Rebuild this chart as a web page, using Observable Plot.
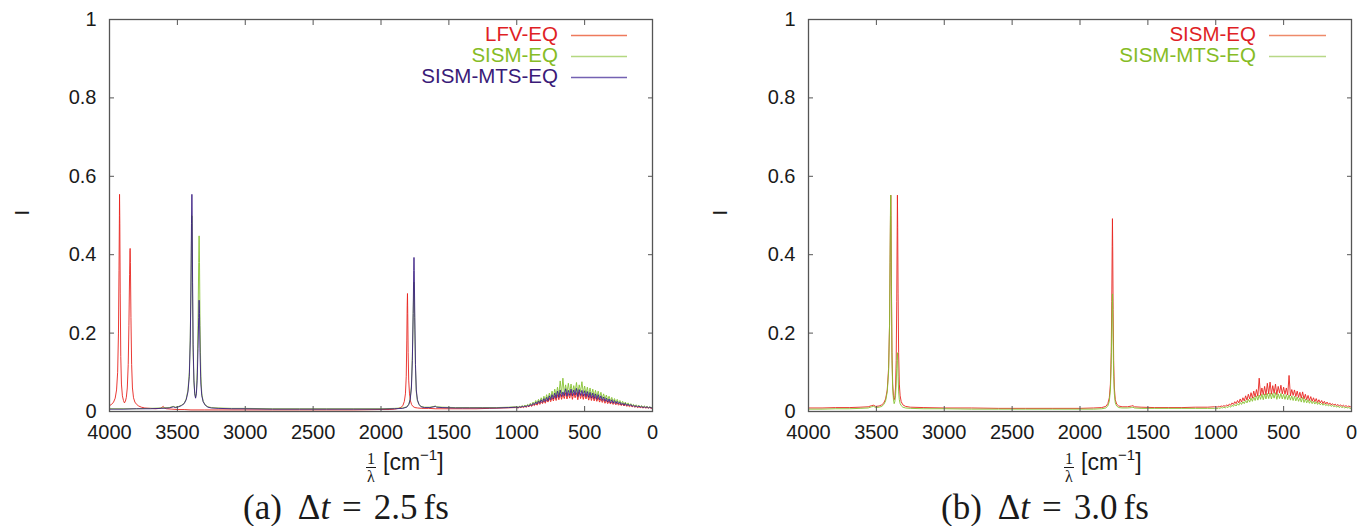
<!DOCTYPE html>
<html>
<head>
<meta charset="utf-8">
<script src="https://cdn.jsdelivr.net/npm/d3@7"></script>
<script src="https://cdn.jsdelivr.net/npm/@observablehq/plot@0.6"></script>
<style>
  html, body { margin: 0; padding: 0; background: #fff; }
  #root { position: relative; width: 1361px; height: 526px; overflow: hidden; font-family: "Liberation Sans", Arial, sans-serif; color: #1a1a1a; }
  .panel { position: absolute; top: 0; }
  .leg { position: absolute; font-size: 20.5px; line-height: 20px; text-align: right; white-space: nowrap; }
  .legsvg { position: absolute; overflow: visible; }
  .xlab { position: absolute; font-size: 23px; white-space: nowrap; line-height: 1; }
  .frac { display: inline-block; vertical-align: -12px; text-align: center; font-family: "Liberation Serif", serif; font-size: 16px; line-height: 15px; margin-right: 7px; }
  .frac .num { display: block; border-bottom: 1px solid #1a1a1a; padding: 0 1px 1px 1px; }
  .frac .den { display: block; padding-top: 1px; }
  .xlab sup { font-size: 15px; vertical-align: 10px; line-height: 0; }
  .cap { position: absolute; font-family: "Liberation Serif", serif; font-size: 35px; line-height: 35px; white-space: nowrap; }
  .cap span { display: inline-block; }
</style>
</head>
<body>
<div id="root"></div>
<script>
// ---------- axis ticks ----------
const xTicks = [0, 500, 1000, 1500, 2000, 2500, 3000, 3500, 4000];
const yTicks = [0, 0.2, 0.4, 0.6, 0.8, 1];

// ---------- shared x grid for the broad low-frequency band (cm^-1) ----------
const humpX = [
  1000, 990, 980, 970, 960, 950, 940, 930, 920, 910,
  900, 890, 880, 870, 860, 850, 840, 830, 820, 810,
  800, 790, 780, 770, 760, 750, 740, 730, 720, 710,
  700, 690, 680, 670, 660, 650, 640, 630, 620, 610,
  600, 590, 580, 570, 560, 550, 540, 530, 520, 510,
  500, 490, 480, 470, 460, 450, 440, 430, 420, 410,
  400, 390, 380, 370, 360, 350, 340, 330, 320, 310,
  300, 290, 280, 270, 260, 250, 240, 230, 220, 210,
  200, 190, 180, 170, 160, 150, 140, 130, 120, 110,
  100, 90, 80, 70, 60, 50, 40, 30, 20, 10,
  0
];

// ================= panel (a): dt = 2.5 fs =================
const labelsA = ["LFV-EQ", "SISM-EQ", "SISM-MTS-EQ"];
const colorsA = ["#e8251f", "#86c232", "#3b1f84"];
const textColorsA = ["#df1f26", "#86bc25", "#3a1a78"];
const legendLineA = ["#ee7a5c", "#b4d880", "#7462b2"];

const lfvA_main = [
  [4000,0.015],[3985,0.018],[3970,0.024],[3958,0.034],[3948,0.055],[3940,0.10],[3934,0.20],[3930,0.36],[3927,0.50],[3926,0.554],
  [3924,0.48],[3921,0.30],[3917,0.14],[3912,0.07],[3905,0.04],[3897,0.028],[3890,0.022],[3883,0.026],[3876,0.036],[3869,0.06],
  [3862,0.12],[3857,0.22],[3852,0.35],[3849,0.41],[3848,0.416],[3846,0.38],[3842,0.24],[3837,0.12],[3831,0.06],[3823,0.035],
  [3813,0.024],[3800,0.018],[3785,0.014],[3765,0.011],[3740,0.009],[3700,0.008],[3660,0.007],[3625,0.008],[3612,0.011],[3604,0.013],
  [3596,0.009],[3580,0.007],[3540,0.006],[3500,0.005],[3450,0.005],[3400,0.004],[3300,0.004],[3200,0.004],[3000,0.004],[2800,0.004],
  [2600,0.004],[2400,0.004],[2200,0.004],[2000,0.005],[1940,0.005],[1900,0.006],[1870,0.008],[1850,0.011],[1838,0.016],[1828,0.026],
  [1820,0.045],[1814,0.09],[1810,0.18],[1807,0.27],[1805,0.301],[1803,0.25],[1800,0.15],[1796,0.08],[1790,0.045],[1783,0.027],
  [1775,0.018],[1765,0.013],[1750,0.010],[1730,0.009],[1700,0.008],[1650,0.008],[1600,0.007],[1500,0.007],[1400,0.007],[1300,0.007],
  [1200,0.008],[1100,0.009],[1010,0.010]
];
const lfvA_band = [
  0.010,0.009,0.011,0.010,0.012,0.010,0.013,0.011,0.014,0.012,
  0.016,0.013,0.018,0.015,0.020,0.016,0.023,0.018,0.025,0.020,
  0.028,0.021,0.030,0.024,0.034,0.025,0.036,0.027,0.040,0.028,
  0.043,0.030,0.045,0.031,0.044,0.033,0.048,0.032,0.046,0.034,
  0.049,0.031,0.047,0.035,0.048,0.030,0.050,0.033,0.046,0.031,
  0.045,0.032,0.044,0.029,0.042,0.028,0.040,0.027,0.038,0.026,
  0.036,0.024,0.033,0.023,0.031,0.021,0.029,0.020,0.027,0.019,
  0.025,0.018,0.023,0.017,0.022,0.016,0.020,0.015,0.019,0.014,
  0.018,0.013,0.016,0.012,0.015,0.012,0.014,0.011,0.013,0.010,
  0.012,0.010,0.011,0.009,0.011,0.009,0.010,0.009,0.010,0.008,
  0.009
];

const sismA_main = [
  [4000,0.007],[3900,0.007],[3800,0.007],[3700,0.008],[3620,0.009],[3560,0.010],[3530,0.013],[3515,0.011],[3490,0.013],[3470,0.016],
  [3450,0.021],[3435,0.032],[3422,0.055],[3412,0.10],[3405,0.19],[3400,0.31],[3396,0.44],[3393,0.50],[3391,0.46],[3388,0.30],
  [3384,0.15],[3378,0.075],[3372,0.045],[3366,0.036],[3360,0.05],[3354,0.10],[3348,0.22],[3343,0.38],[3340,0.448],[3337,0.38],
  [3333,0.22],[3327,0.09],[3320,0.045],[3310,0.026],[3295,0.017],[3275,0.012],[3250,0.010],[3200,0.009],[3100,0.008],[3000,0.008],
  [2800,0.007],[2600,0.007],[2400,0.007],[2200,0.007],[2000,0.007],[1900,0.008],[1840,0.009],[1810,0.012],[1795,0.019],[1785,0.032],
  [1776,0.065],[1769,0.14],[1763,0.25],[1759,0.31],[1757,0.33],[1755,0.30],[1751,0.21],[1746,0.11],[1740,0.05],[1732,0.028],
  [1720,0.018],[1705,0.013],[1680,0.011],[1640,0.011],[1610,0.013],[1600,0.014],[1590,0.012],[1550,0.011],[1450,0.010],[1350,0.010],
  [1250,0.010],[1150,0.010],[1060,0.011],[1010,0.012]
];
const sismA_band = [
  0.012,0.011,0.013,0.012,0.015,0.013,0.016,0.014,0.018,0.015,
  0.021,0.017,0.024,0.019,0.028,0.021,0.031,0.024,0.035,0.026,
  0.039,0.029,0.043,0.031,0.047,0.034,0.052,0.037,0.057,0.040,
  0.062,0.042,0.078,0.045,0.085,0.046,0.068,0.047,0.072,0.048,
  0.070,0.047,0.066,0.049,0.074,0.046,0.068,0.050,0.076,0.047,
  0.065,0.045,0.062,0.043,0.060,0.041,0.057,0.039,0.054,0.037,
  0.052,0.035,0.049,0.033,0.045,0.031,0.042,0.029,0.039,0.027,
  0.036,0.025,0.033,0.023,0.031,0.022,0.028,0.020,0.026,0.018,
  0.024,0.017,0.022,0.016,0.020,0.015,0.018,0.014,0.017,0.013,
  0.016,0.012,0.015,0.011,0.014,0.011,0.013,0.010,0.012,0.010,
  0.011
];

const mtsA_main = [
  [4000,0.006],[3900,0.006],[3800,0.007],[3700,0.007],[3620,0.008],[3560,0.009],[3530,0.012],[3515,0.010],[3490,0.012],[3470,0.015],
  [3450,0.02],[3435,0.03],[3422,0.05],[3412,0.09],[3405,0.18],[3400,0.32],[3396,0.48],[3393,0.554],[3391,0.50],[3388,0.33],
  [3384,0.17],[3378,0.08],[3372,0.045],[3366,0.034],[3360,0.045],[3354,0.08],[3348,0.16],[3343,0.24],[3340,0.284],[3337,0.25],
  [3333,0.15],[3327,0.07],[3320,0.04],[3310,0.025],[3295,0.016],[3275,0.011],[3250,0.009],[3200,0.008],[3100,0.007],[3000,0.007],
  [2800,0.006],[2600,0.006],[2400,0.006],[2200,0.006],[2000,0.006],[1900,0.007],[1840,0.008],[1810,0.011],[1795,0.018],[1785,0.03],
  [1776,0.06],[1769,0.13],[1763,0.25],[1759,0.36],[1757,0.393],[1755,0.36],[1751,0.24],[1746,0.12],[1740,0.055],[1732,0.03],
  [1720,0.018],[1705,0.012],[1680,0.010],[1640,0.010],[1610,0.012],[1600,0.013],[1590,0.011],[1550,0.010],[1450,0.009],[1350,0.009],
  [1250,0.009],[1150,0.009],[1060,0.010],[1010,0.011]
];
const mtsA_band = [
  0.011,0.010,0.012,0.011,0.013,0.012,0.014,0.012,0.016,0.013,
  0.018,0.015,0.021,0.017,0.024,0.019,0.027,0.021,0.030,0.023,
  0.033,0.025,0.036,0.027,0.040,0.030,0.043,0.032,0.047,0.034,
  0.052,0.036,0.055,0.038,0.050,0.040,0.058,0.039,0.054,0.041,
  0.057,0.040,0.055,0.042,0.059,0.038,0.056,0.041,0.054,0.039,
  0.053,0.038,0.051,0.036,0.049,0.034,0.047,0.033,0.045,0.031,
  0.043,0.030,0.040,0.028,0.037,0.026,0.034,0.024,0.032,0.022,
  0.030,0.021,0.028,0.020,0.026,0.019,0.024,0.017,0.022,0.016,
  0.021,0.015,0.019,0.014,0.018,0.013,0.016,0.012,0.015,0.011,
  0.014,0.011,0.013,0.010,0.012,0.010,0.012,0.009,0.011,0.009,
  0.010
];

// ================= panel (b): dt = 3.0 fs =================
const labelsB = ["SISM-EQ", "SISM-MTS-EQ"];
const colorsB = ["#e8251f", "#86c232"];
const textColorsB = ["#df1f26", "#86bc25"];
const legendLineB = ["#ee8a6a", "#b8d886"];

const sismB_main = [
  [4000,0.009],[3900,0.009],[3800,0.010],[3700,0.010],[3620,0.011],[3560,0.012],[3535,0.015],[3520,0.016],[3505,0.013],[3480,0.014],
  [3460,0.017],[3445,0.022],[3432,0.032],[3420,0.055],[3410,0.11],[3403,0.22],[3399,0.38],[3396,0.50],[3394,0.552],[3392,0.50],
  [3389,0.32],[3385,0.15],[3380,0.07],[3374,0.04],[3369,0.03],[3364,0.035],[3359,0.06],[3354,0.13],[3350,0.28],[3347,0.45],
  [3345,0.552],[3343,0.47],[3340,0.30],[3336,0.15],[3331,0.07],[3325,0.04],[3317,0.025],[3305,0.017],[3285,0.013],[3250,0.011],
  [3150,0.010],[3000,0.009],[2800,0.009],[2600,0.008],[2400,0.008],[2200,0.008],[2000,0.008],[1900,0.009],[1840,0.010],[1810,0.013],
  [1795,0.02],[1784,0.035],[1776,0.07],[1770,0.15],[1766,0.28],[1763,0.42],[1761,0.492],[1759,0.42],[1756,0.26],[1752,0.13],
  [1747,0.06],[1740,0.03],[1730,0.019],[1715,0.014],[1690,0.012],[1650,0.012],[1620,0.014],[1610,0.015],[1600,0.012],[1550,0.011],
  [1450,0.010],[1350,0.010],[1250,0.010],[1150,0.011],[1060,0.011],[1010,0.012]
];
const sismB_band = [
  0.012,0.011,0.013,0.012,0.014,0.013,0.015,0.013,0.017,0.014,
  0.019,0.016,0.022,0.018,0.025,0.020,0.028,0.022,0.032,0.024,
  0.035,0.027,0.040,0.029,0.044,0.032,0.048,0.034,0.052,0.037,
  0.056,0.039,0.085,0.041,0.060,0.043,0.064,0.042,0.072,0.045,
  0.075,0.044,0.066,0.046,0.070,0.043,0.064,0.047,0.067,0.045,
  0.062,0.044,0.060,0.042,0.092,0.040,0.056,0.041,0.055,0.038,
  0.052,0.036,0.049,0.034,0.050,0.032,0.044,0.030,0.041,0.028,
  0.038,0.026,0.035,0.025,0.033,0.023,0.030,0.022,0.028,0.020,
  0.026,0.019,0.024,0.018,0.022,0.017,0.020,0.016,0.019,0.015,
  0.018,0.014,0.017,0.013,0.016,0.013,0.015,0.012,0.014,0.012,
  0.012
];

const mtsB_main = [
  [4000,0.006],[3900,0.006],[3800,0.007],[3700,0.007],[3620,0.008],[3560,0.009],[3535,0.012],[3520,0.013],[3505,0.010],[3480,0.011],
  [3460,0.013],[3445,0.018],[3432,0.027],[3420,0.05],[3410,0.10],[3403,0.22],[3399,0.40],[3396,0.52],[3394,0.552],[3392,0.48],
  [3389,0.30],[3385,0.13],[3380,0.06],[3374,0.03],[3369,0.02],[3364,0.025],[3359,0.04],[3354,0.07],[3350,0.11],[3347,0.14],
  [3345,0.15],[3343,0.13],[3340,0.09],[3336,0.05],[3331,0.03],[3325,0.02],[3317,0.015],[3305,0.011],[3285,0.009],[3250,0.008],
  [3150,0.007],[3000,0.007],[2800,0.006],[2600,0.006],[2400,0.006],[2200,0.006],[2000,0.006],[1900,0.006],[1840,0.007],[1810,0.009],
  [1795,0.014],[1784,0.026],[1776,0.055],[1770,0.12],[1766,0.21],[1763,0.28],[1761,0.30],[1759,0.27],[1756,0.18],[1752,0.09],
  [1747,0.045],[1740,0.022],[1730,0.014],[1715,0.010],[1690,0.009],[1650,0.009],[1620,0.010],[1610,0.011],[1600,0.009],[1550,0.008],
  [1450,0.008],[1350,0.008],[1250,0.008],[1150,0.008],[1060,0.008],[1010,0.008]
];
const mtsB_band = [
  0.008,0.007,0.009,0.008,0.010,0.009,0.011,0.009,0.012,0.010,
  0.014,0.011,0.016,0.013,0.018,0.014,0.020,0.016,0.023,0.018,
  0.025,0.020,0.028,0.022,0.031,0.024,0.034,0.026,0.037,0.028,
  0.040,0.029,0.042,0.031,0.044,0.030,0.045,0.032,0.046,0.033,
  0.047,0.032,0.046,0.034,0.048,0.031,0.045,0.033,0.046,0.032,
  0.044,0.031,0.043,0.030,0.042,0.029,0.040,0.028,0.039,0.027,
  0.037,0.026,0.035,0.024,0.036,0.023,0.032,0.022,0.030,0.021,
  0.028,0.020,0.026,0.019,0.025,0.018,0.023,0.017,0.021,0.016,
  0.020,0.015,0.018,0.014,0.017,0.013,0.016,0.012,0.015,0.011,
  0.014,0.010,0.013,0.010,0.012,0.009,0.011,0.009,0.010,0.008,
  0.008
];

// ---------- build tables ----------
function series(main, band) {
  return main.map(([x, y]) => ({x, y})).concat(humpX.map((x, i) => ({x, y: band[i]})));
}
const panelA = [series(lfvA_main, lfvA_band), series(sismA_main, sismA_band), series(mtsA_main, mtsA_band)];
const panelB = [series(sismB_main, sismB_band), series(mtsB_main, mtsB_band)];

function makePlot(datasets, colors, opts) {
  const fmt = d => String(d);
  return Plot.plot({
    width: opts.width, height: 470,
    marginLeft: opts.marginLeft, marginRight: opts.marginRight, marginTop: 19, marginBottom: 59,
    style: {fontFamily: '"Liberation Sans", Arial, sans-serif', fontSize: "20px", color: "#1a1a1a", background: "transparent", overflow: "visible"},
    x: {domain: [0, 4000], reverse: true},
    y: {domain: [0, 1]},
    marks: [
      ...datasets.map((d, i) => Plot.line(d, {x: "x", y: "y", stroke: colors[i], strokeWidth: 1, strokeOpacity: 0.9})),
      Plot.frame({stroke: "#555", strokeWidth: 1.3}),
      Plot.axisX(xTicks, {anchor: "bottom", tickSize: 0, tickPadding: 13, tickFormat: fmt, label: null, fontSize: 20}),
      Plot.axisX(xTicks, {anchor: "bottom", tickSize: -5, fill: "none", stroke: "#555", label: null}),
      Plot.axisX(xTicks, {anchor: "top", tickSize: -5, fill: "none", stroke: "#555", label: null}),
      Plot.axisY(yTicks, {anchor: "left", tickSize: 0, tickPadding: 13, tickFormat: fmt, label: null, fontSize: 20}),
      Plot.axisY(yTicks, {anchor: "left", tickSize: -5, fill: "none", stroke: "#555", label: null}),
      Plot.axisY(yTicks, {anchor: "right", tickSize: -5, fill: "none", stroke: "#555", label: null}),
      Plot.text(["I"], {frameAnchor: "left", dx: opts.yLabelDx, rotate: -90, fontSize: 20, fill: "#1a1a1a"})
    ]
  });
}

const root = document.getElementById("root");

function addPanel(left, svg) {
  const d = document.createElement("div");
  d.className = "panel";
  d.style.left = left + "px";
  d.appendChild(svg);
  root.appendChild(d);
}
addPanel(0, makePlot(panelA, colorsA, {width: 680, marginLeft: 109, marginRight: 28, yLabelDx: -87}));
addPanel(680, makePlot(panelB, colorsB, {width: 681, marginLeft: 128, marginRight: 10, yLabelDx: -88}));

// ---------- legends ----------
const SVGNS = "http://www.w3.org/2000/svg";
function addLegend(labels, lineColors, textColors, textRight, lineLeft, lineWidth) {
  labels.forEach((lab, i) => {
    const cy = 35 + i * 21;
    const t = document.createElement("div");
    t.className = "leg";
    t.style.left = (textRight - 300) + "px";
    t.style.width = "300px";
    t.style.top = (cy - 11) + "px";
    t.style.color = textColors[i];
    t.textContent = lab;
    root.appendChild(t);
    const s = document.createElementNS(SVGNS, "svg");
    s.setAttribute("class", "legsvg");
    s.setAttribute("width", lineWidth);
    s.setAttribute("height", 3);
    s.style.left = lineLeft + "px";
    s.style.top = (cy - 1) + "px";
    const ln = document.createElementNS(SVGNS, "line");
    ln.setAttribute("x1", 0); ln.setAttribute("x2", lineWidth);
    ln.setAttribute("y1", 1.5); ln.setAttribute("y2", 1.5);
    ln.setAttribute("stroke", lineColors[i]);
    ln.setAttribute("stroke-width", 1.4);
    s.appendChild(ln);
    root.appendChild(s);
  });
}
addLegend(labelsA, legendLineA, textColorsA, 558, 571, 56);
addLegend(labelsB, legendLineB, textColorsB, 1256, 1269, 57);

// ---------- x-axis titles ----------
function addXLabel(left) {
  const d = document.createElement("div");
  d.className = "xlab";
  d.style.left = left + "px";
  d.style.top = "451px";
  d.innerHTML = '<span class="frac"><span class="num">1</span><span class="den">λ</span></span>[cm<sup>−1</sup>]';
  root.appendChild(d);
}
addXLabel(366);
addXLabel(1064);

// ---------- captions ----------
function addCaption(left, letter, value) {
  const d = document.createElement("div");
  d.className = "cap";
  d.style.left = left + "px";
  d.style.top = "490px";
  d.innerHTML =
    '<span style="margin-right:16px">(' + letter + ')</span>' +
    '<span>Δ<i>t</i></span>' +
    '<span style="margin:0 12px 0 12px">=</span>' +
    '<span style="margin-right:6px">' + value + '</span>' +
    '<span>fs</span>';
  root.appendChild(d);
}
addCaption(243, "a", "2.5");
addCaption(941, "b", "3.0");
</script>
</body>
</html>
